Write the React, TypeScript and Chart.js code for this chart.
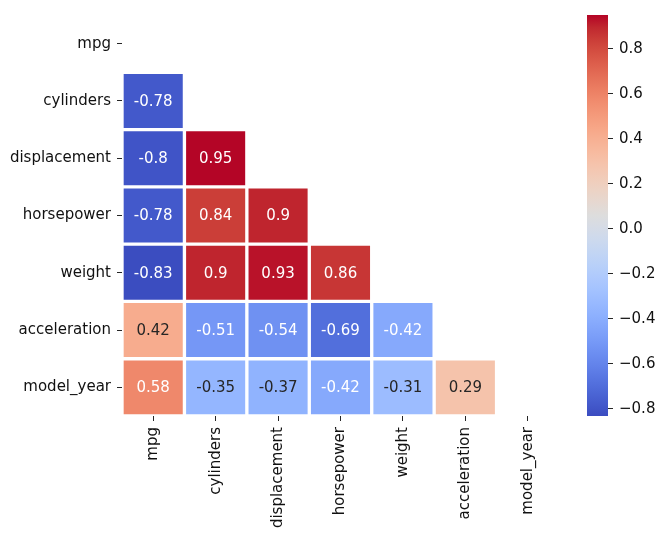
import React, { useEffect, useRef } from 'react';
import { Chart, registerables } from 'chart.js';
Chart.register(...registerables);

// ---- data ----
const VARIABLES = ['mpg', 'cylinders', 'displacement', 'horsepower', 'weight', 'acceleration', 'model_year'];
const ROW_MPG: number[] = [];
const ROW_CYLINDERS = [-0.78];
const ROW_DISPLACEMENT = [-0.8, 0.95];
const ROW_HORSEPOWER = [-0.78, 0.84, 0.9];
const ROW_WEIGHT = [-0.83, 0.9, 0.93, 0.86];
const ROW_ACCELERATION = [0.42, -0.51, -0.54, -0.69, -0.42];
const ROW_MODEL_YEAR = [0.58, -0.35, -0.37, -0.42, -0.31, 0.29];
const LOWER_TRIANGLE = [ROW_MPG, ROW_CYLINDERS, ROW_DISPLACEMENT, ROW_HORSEPOWER, ROW_WEIGHT, ROW_ACCELERATION, ROW_MODEL_YEAR];
const VMIN = -0.832;
const VMAX = 0.951;
const CBAR_TICKS = [-0.8, -0.6, -0.4, -0.2, 0, 0.2, 0.4, 0.6, 0.8];

// coolwarm colormap (33 anchors)
const COOLWARM: number[][] = [
  [59, 76, 192], [68, 90, 204], [77, 104, 215], [87, 117, 225], [98, 130, 234], [108, 142, 241],
  [119, 154, 247], [130, 165, 251], [141, 176, 254], [152, 185, 255], [163, 194, 255], [174, 201, 253],
  [184, 208, 249], [194, 213, 244], [204, 217, 238], [213, 219, 230], [221, 221, 221], [229, 216, 209],
  [236, 211, 197], [241, 204, 185], [245, 196, 173], [247, 187, 160], [247, 177, 148], [247, 166, 135],
  [244, 154, 123], [241, 141, 111], [236, 127, 99], [229, 112, 88], [222, 96, 77], [213, 80, 66],
  [203, 62, 56], [192, 40, 47], [180, 4, 38],
];

const FONT = "'DejaVu Sans', sans-serif";
const FONT_SIZE = 15;
const TEXT_DARK = '#262626';
const LUM_THRESHOLD = 0.42;

function cmapRGB(t: number): number[] {
  const tt = Math.max(0, Math.min(1, t));
  const pos = tt * (COOLWARM.length - 1);
  const i = Math.min(COOLWARM.length - 2, Math.floor(pos));
  const f = pos - i;
  const a = COOLWARM[i];
  const b = COOLWARM[i + 1];
  return [0, 1, 2].map((k) => a[k] + (b[k] - a[k]) * f);
}
function valueRGB(v: number) {
  return cmapRGB((v - VMIN) / (VMAX - VMIN));
}
function rgbStr(c: number[]) {
  return `rgb(${Math.round(c[0])},${Math.round(c[1])},${Math.round(c[2])})`;
}
function luminance(c: number[]) {
  const lin = c.map((x) => {
    const s = x / 255;
    return s <= 0.03928 ? s / 12.92 : Math.pow((s + 0.055) / 1.055, 2.4);
  });
  return 0.2126 * lin[0] + 0.7152 * lin[1] + 0.0722 * lin[2];
}

const annotatePlugin = {
  id: 'annotateCells',
  afterDatasetsDraw(chart: any) {
    const ctx = chart.ctx;
    ctx.save();
    ctx.font = `${FONT_SIZE}px ${FONT}`;
    ctx.textAlign = 'center';
    ctx.textBaseline = 'middle';
    chart.data.datasets.forEach((ds: any, di: number) => {
      const row = LOWER_TRIANGLE[ds.rowIndex];
      const meta = chart.getDatasetMeta(di);
      meta.data.forEach((el: any, ci: number) => {
        if (ci >= row.length) return;
        const v = row[ci];
        const p = el.getCenterPoint();
        ctx.fillStyle = luminance(valueRGB(v)) > LUM_THRESHOLD ? TEXT_DARK : '#ffffff';
        ctx.fillText(String(v), p.x, p.y + 1);
      });
    });
    ctx.restore();
  },
};

export default function App() {
  const mainRef = useRef<HTMLCanvasElement | null>(null);
  const cbarRef = useRef<HTMLCanvasElement | null>(null);

  useEffect(() => {
    const datasets = LOWER_TRIANGLE.map((row, r) => ({
      rowIndex: r,
      data: VARIABLES.map((_, c) => (c < row.length ? [r - 0.5, r + 0.5] : null)),
      backgroundColor: VARIABLES.map((_, c) => (c < row.length ? rgbStr(valueRGB(row[c])) : 'rgba(0,0,0,0)')),
      borderColor: '#ffffff',
      borderWidth: 2,
      borderSkipped: false,
      grouped: false,
      barPercentage: 1,
      categoryPercentage: 1,
    })).filter((d) => LOWER_TRIANGLE[d.rowIndex].length > 0);

    const main = new Chart(mainRef.current!, {
      type: 'bar',
      data: { labels: VARIABLES, datasets: datasets as any },
      plugins: [annotatePlugin],
      options: {
        responsive: false,
        animation: false,
        devicePixelRatio: 1,
        layout: { padding: { top: 9, right: 98, left: 0, bottom: 0 } },
        plugins: { legend: { display: false }, tooltip: { enabled: false } },
        scales: {
          x: {
            type: 'category',
            offset: true,
            border: { display: false },
            grid: { offset: false, drawOnChartArea: false, drawTicks: true, tickLength: 5, color: TEXT_DARK, tickColor: TEXT_DARK },
            ticks: { minRotation: 90, maxRotation: 90, autoSkip: false, padding: 6, color: '#111', font: { family: FONT, size: FONT_SIZE } },
            afterFit: (s: any) => { s.height = 126; },
          },
          y: {
            type: 'linear',
            reverse: true,
            min: -0.5,
            max: 6.5,
            border: { display: false },
            grid: { drawOnChartArea: false, drawTicks: true, tickLength: 5, tickColor: TEXT_DARK },
            afterBuildTicks: (s: any) => { s.ticks = VARIABLES.map((_, i) => ({ value: i })); },
            ticks: {
              autoSkip: false,
              padding: 6,
              color: '#111',
              font: { family: FONT, size: FONT_SIZE },
              callback: (v: any) => VARIABLES[Number(v)] ?? '',
            },
            afterFit: (s: any) => { s.width = 122; },
          },
        },
      } as any,
    });

    const cbar = new Chart(cbarRef.current!, {
      type: 'bar',
      data: {
        labels: [''],
        datasets: [{
          data: [[VMIN, VMAX]] as any,
          barPercentage: 1,
          categoryPercentage: 1,
          borderWidth: 0,
          backgroundColor: (ctx: any) => {
            const area = ctx.chart.chartArea;
            if (!area) return 'rgba(0,0,0,0)';
            const g = ctx.chart.ctx.createLinearGradient(0, area.bottom, 0, area.top);
            COOLWARM.forEach((c, i) => g.addColorStop(i / (COOLWARM.length - 1), rgbStr(c)));
            return g;
          },
        }],
      },
      options: {
        responsive: false,
        animation: false,
        devicePixelRatio: 1,
        layout: { padding: { top: 9, right: 0, left: 587, bottom: 0 } },
        plugins: { legend: { display: false }, tooltip: { enabled: false } },
        scales: {
          x: { display: false, afterFit: (s: any) => { s.height = 126; } },
          y: {
            type: 'linear',
            position: 'right',
            min: VMIN,
            max: VMAX,
            border: { display: false },
            grid: { drawOnChartArea: false, drawTicks: true, tickLength: 5, tickColor: TEXT_DARK },
            afterBuildTicks: (s: any) => { s.ticks = CBAR_TICKS.map((v) => ({ value: v })); },
            ticks: {
              padding: 6,
              color: '#111',
              font: { family: FONT, size: FONT_SIZE },
              callback: (v: any) => {
                const n = Number(v);
                const s = Math.abs(n).toFixed(1);
                return n < -1e-9 ? '\u2212' + s : s;
              },
            },
            afterFit: (s: any) => { s.width = 657 - 608; },
          },
        },
      } as any,
    });

    return () => {
      main.destroy();
      cbar.destroy();
    };
  }, []);

  return (
    <div style={{ position: 'fixed', left: 0, top: 0, width: 657, height: 542, background: '#fff' }}>
      <canvas ref={mainRef} width={657} height={542} style={{ position: 'absolute', left: 0, top: 0 }} />
      <canvas ref={cbarRef} width={657} height={542} style={{ position: 'absolute', left: 0, top: 0 }} />
    </div>
  );
}
